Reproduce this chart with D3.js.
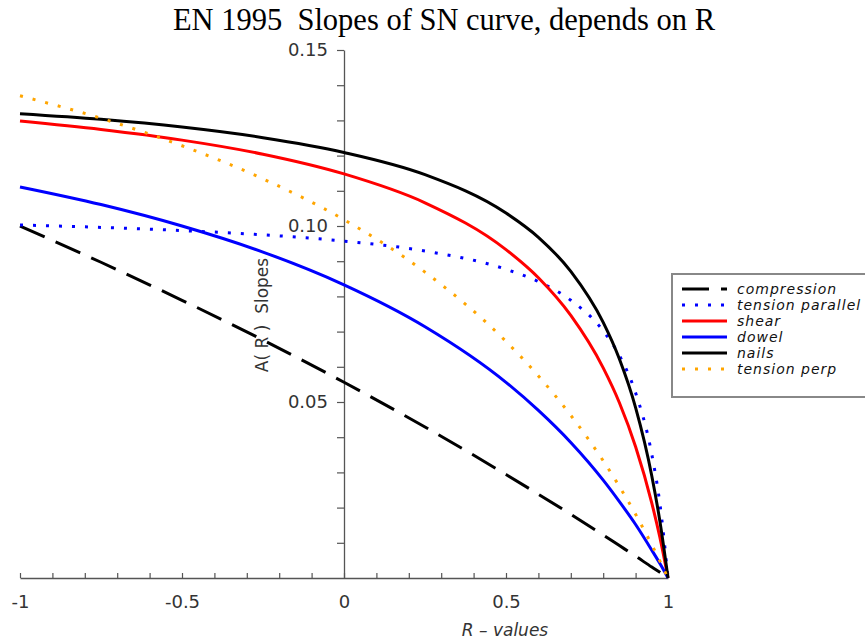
<!DOCTYPE html>
<html>
<head>
<meta charset="utf-8">
<script src="https://cdn.jsdelivr.net/npm/d3@7"></script>
<style>
    body { margin: 0; background: #fff; }
    text { font-family: "DejaVu Sans", sans-serif; }
</style>
</head>
<body>
<svg id="chart" width="865" height="641"></svg>
<script>
// R values (x) shared by all curves
var rValues = [-1, -0.75, -0.5, -0.25, 0, 0.25, 0.5, 0.6, 0.7, 0.8, 0.85, 0.9, 0.95, 0.975, 1];

// A(R) slopes
var compression     = [0.1000, 0.0897, 0.0789, 0.0676, 0.0556, 0.0429, 0.0294, 0.0238, 0.0181, 0.0122, 0.0092, 0.0062, 0.0031, 0.0016, 0];
var tensionParallel = [0.1003, 0.0996, 0.0987, 0.0975, 0.0957, 0.0929, 0.0877, 0.0842, 0.0789, 0.0702, 0.0632, 0.0526, 0.0351, 0.0211, 0];
var shear           = [0.1298, 0.1274, 0.1244, 0.1204, 0.1148, 0.1066, 0.0933, 0.0853, 0.0746, 0.0597, 0.0498, 0.0373, 0.0213, 0.0115, 0];
var dowel           = [0.1111, 0.1061, 0.1000, 0.0926, 0.0833, 0.0714, 0.0556, 0.0476, 0.0385, 0.0278, 0.0217, 0.0152, 0.0079, 0.0041, 0];
var nails           = [0.1319, 0.1303, 0.1281, 0.1251, 0.1209, 0.1146, 0.1037, 0.0968, 0.0871, 0.0726, 0.0622, 0.0484, 0.0290, 0.0161, 0];
var tensionPerp     = [0.1370, 0.1306, 0.1228, 0.1134, 0.1018, 0.0869, 0.0672, 0.0574, 0.0462, 0.0333, 0.0260, 0.0181, 0.0094, 0.0048, 0];

var seriesNames = ["compression", "tension parallel", "shear", "dowel", "nails", "tension perp"];
var seriesData = [compression, tensionParallel, shear, dowel, nails, tensionPerp];
var seriesColors = ["#000000", "#0000ff", "#ff0000", "#0000ff", "#000000", "#ffa500"];
var seriesDash = ["27,12", "3,10", null, null, null, "3,10"];

var xTicks = [-1, -0.9, -0.8, -0.7, -0.6, -0.5, -0.4, -0.3, -0.2, -0.1, 0, 0.1, 0.2, 0.3, 0.4, 0.5, 0.6, 0.7, 0.8, 0.9, 1];
var xLabels = [-1, -0.5, 0, 0.5, 1];
var yTicks = [0.01, 0.02, 0.03, 0.04, 0.05, 0.06, 0.07, 0.08, 0.09, 0.10, 0.11, 0.12, 0.13, 0.14, 0.15];
var yLabels = [0.05, 0.10, 0.15];

var svg = d3.select("#chart");

var x = d3.scaleLinear().domain([-1, 1]).range([20, 668]);
var y = d3.scaleLinear().domain([0, 0.15]).range([578, 50]);

// title
svg.append("text")
    .attr("x", 444)
    .attr("y", 30)
    .attr("text-anchor", "middle")
    .style("font-family", "'Liberation Serif', 'Times New Roman', serif")
    .style("font-size", "30.5px")
    .style("white-space", "pre")
    .attr("fill", "#000")
    .text("EN 1995  Slopes of SN curve, depends on R");

/* x axis, ticks pointing up */
var xAxis = svg.append("g")
    .attr("transform", "translate(0," + y(0) + ")")
    .call(d3.axisBottom(x)
        .tickValues(xTicks)
        .tickSizeInner(-5)
        .tickSizeOuter(0)
        .tickPadding(17)
        .tickFormat(function (d) {
            return xLabels.indexOf(d) >= 0 ? String(d).replace("\u2212", "-") : "";
        }));

/* y axis at R = 0 */
var yAxis = svg.append("g")
    .attr("transform", "translate(" + x(0) + ",0)")
    .call(d3.axisLeft(y)
        .tickValues(yTicks)
        .tickSizeInner(7)
        .tickSizeOuter(0)
        .tickPadding(9)
        .tickFormat(function (d) {
            return yLabels.some(function (v) { return Math.abs(v - d) < 1e-9; }) ? d3.format(".2f")(d) : "";
        }));

[xAxis, yAxis].forEach(function (g) {
    g.select(".domain").attr("stroke", "#555").attr("stroke-width", 1.3);
    g.selectAll(".tick line").attr("stroke", "#555").attr("stroke-width", 1.2);
    g.selectAll(".tick text")
        .attr("fill", "#333")
        .style("font-family", "'DejaVu Sans', sans-serif")
        .style("font-size", "18px");
});

// axis titles
svg.append("text")
    .attr("x", 505)
    .attr("y", 636)
    .attr("text-anchor", "middle")
    .style("font-style", "italic")
    .style("font-size", "17px")
    .attr("fill", "#333")
    .text("R \u2013 values");

svg.append("text")
    .attr("transform", "translate(268,315) rotate(-90)")
    .attr("text-anchor", "middle")
    .style("font-size", "17px")
    .style("white-space", "pre")
    .attr("fill", "#333")
    .text("A( R )  Slopes");

var line = d3.line()
    .x(function (d) { return x(d[0]); })
    .y(function (d) { return y(d[1]); })
    .curve(d3.curveMonotoneX);

seriesData.forEach(function (vals, i) {
    var pts = rValues.map(function (r, j) { return [r, vals[j]]; });
    svg.append("path")
        .datum(pts)
        .attr("d", line)
        .attr("fill", "none")
        .attr("stroke", seriesColors[i])
        .attr("stroke-width", 3)
        .attr("stroke-dasharray", seriesDash[i]);
});

/* Legend start */
var legend = svg.append("g").attr("transform", "translate(672,274)");

legend.append("rect")
    .attr("x", 0)
    .attr("y", 0)
    .attr("width", 200)
    .attr("height", 123)
    .attr("fill", "#fff")
    .attr("stroke", "#888")
    .attr("stroke-width", 2);

seriesNames.forEach(function (name, i) {
    var ly = 15 + i * 16;
    legend.append("line")
        .attr("x1", 10)
        .attr("x2", 55)
        .attr("y1", ly)
        .attr("y2", ly)
        .attr("stroke", seriesColors[i])
        .attr("stroke-width", 3)
        .attr("stroke-dasharray", seriesDash[i]);
    legend.append("text")
        .attr("x", 65)
        .attr("y", ly + 5)
        .style("font-style", "italic")
        .style("font-size", "14px")
        .style("letter-spacing", "1px")
        .attr("fill", "#111")
        .text(name);
});
/* Legend end */
</script>
</body>
</html>
